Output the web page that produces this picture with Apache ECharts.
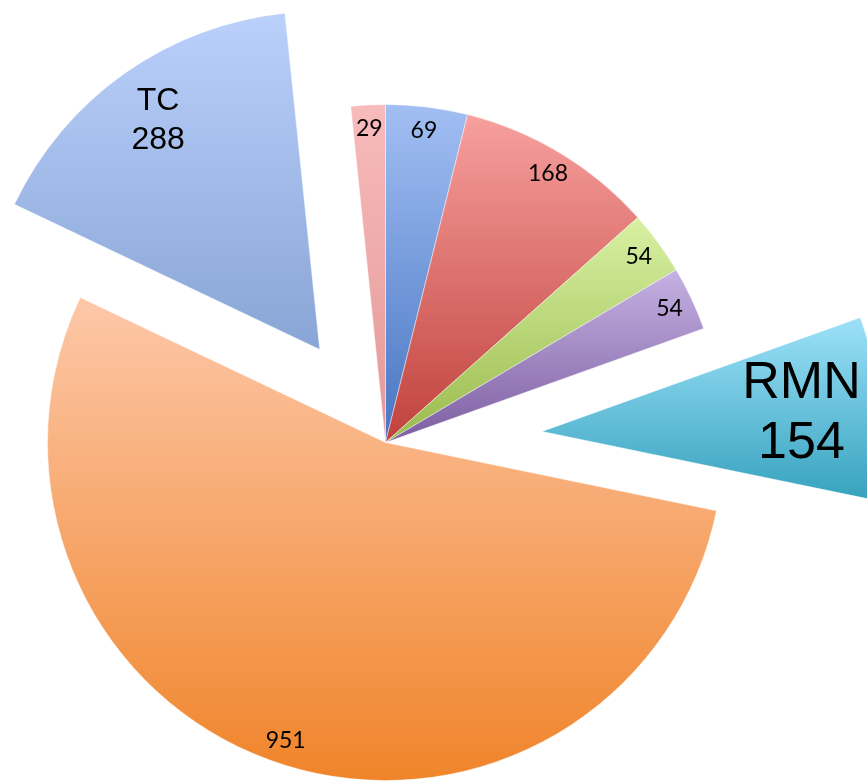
<!DOCTYPE html>
<html>
<head>
<meta charset="utf-8">
<script src="https://cdn.jsdelivr.net/npm/echarts@6/dist/echarts.min.js"></script>
<style>html,body{margin:0;padding:0;background:#fff}#c{width:867px;height:782px}</style>
</head>
<body>
<div id="c"></div>
<script>
// ---- data ----
const categories = ['A', 'B', 'C', 'D', 'RMN', 'E', 'TC', 'F'];
const values = [69, 168, 54, 54, 154, 951, 288, 29];
const exploded = ['TC', 'RMN'];

// ---- styles ----
const topColors = ['#A2BFF3', '#F7A09E', '#D8F1A3', '#C5B2E3', '#9DE1F9', '#FDC8A9', '#BBD0FB', '#F8BBBB'];
const botColors = ['#4775C2', '#C0413C', '#99BA4C', '#7C5DA0', '#36A2BE', '#F0842A', '#88A5D5', '#E39797'];
const C0 = [385.5, 442.5];
const R = 338;
const offsets = { TC: 114, RMN: 157 };
const labelMid = { main: 311, TC: 277, RMN: 257 };

function grad(i) {
  return { type: 'linear', x: 0, y: 0, x2: 0, y2: 1,
    colorStops: [{ offset: 0, color: topColors[i] }, { offset: 1, color: botColors[i] }] };
}
const total = values.reduce((a, b) => a + b, 0);
function centerFor(name) {
  const i = categories.indexOf(name);
  let cum = 0;
  for (let k = 0; k < i; k++) cum += values[k];
  const a = (cum + values[i] / 2) / total * Math.PI * 2;
  const d = offsets[name];
  return [C0[0] + Math.sin(a) * d, C0[1] - Math.cos(a) * d];
}

function sliceSeries(center, visibleFn) {
  return {
    type: 'pie', center: center, radius: R, startAngle: 90, clockwise: true,
    avoidLabelOverlap: false, silent: true, animation: false,
    label: { show: false }, labelLine: { show: false },
    data: categories.map((n, i) => ({
      name: n, value: values[i],
      itemStyle: visibleFn(n)
        ? { color: grad(i), borderWidth: 0.8, borderColor: 'rgba(255,255,255,0.55)' }
        : { color: 'rgba(0,0,0,0)', borderWidth: 0 }
    }))
  };
}
function labelSeries(center, mid, showFn, labelStyle, fmt) {
  const half = R - mid;
  return {
    type: 'pie', center: center, radius: [mid - half, R], startAngle: 90, clockwise: true,
    avoidLabelOverlap: false, silent: true, animation: false, z: 5,
    labelLine: { show: false },
    data: categories.map((n, i) => ({
      name: n, value: values[i],
      itemStyle: { color: 'rgba(0,0,0,0)', borderWidth: 0 },
      label: Object.assign({ show: showFn(n), position: 'inside', rotate: 0, formatter: fmt }, labelStyle)
    }))
  };
}

const tcC = centerFor('TC');
const rmnC = centerFor('RMN');

const option = {
  backgroundColor: '#ffffff',
  series: [
    sliceSeries(C0, n => exploded.indexOf(n) < 0),
    sliceSeries(tcC, n => n === 'TC'),
    sliceSeries(rmnC, n => n === 'RMN'),
    labelSeries(C0, labelMid.main, n => exploded.indexOf(n) < 0,
      { fontFamily: 'Lato', fontSize: 23, color: '#000' }, p => String(p.value)),
    labelSeries(tcC, labelMid.TC, n => n === 'TC',
      { fontFamily: 'Liberation Sans', fontSize: 32, lineHeight: 39, color: '#000' }, p => p.name + '\n' + p.value),
    labelSeries(rmnC, labelMid.RMN, n => n === 'RMN',
      { fontFamily: 'Liberation Sans', fontSize: 52, lineHeight: 60, color: '#000' }, p => p.name + '\n' + p.value)
  ]
};
const chart = echarts.init(document.getElementById('c'), null, { renderer: 'canvas' });
chart.setOption(option);
</script>
</body>
</html>
